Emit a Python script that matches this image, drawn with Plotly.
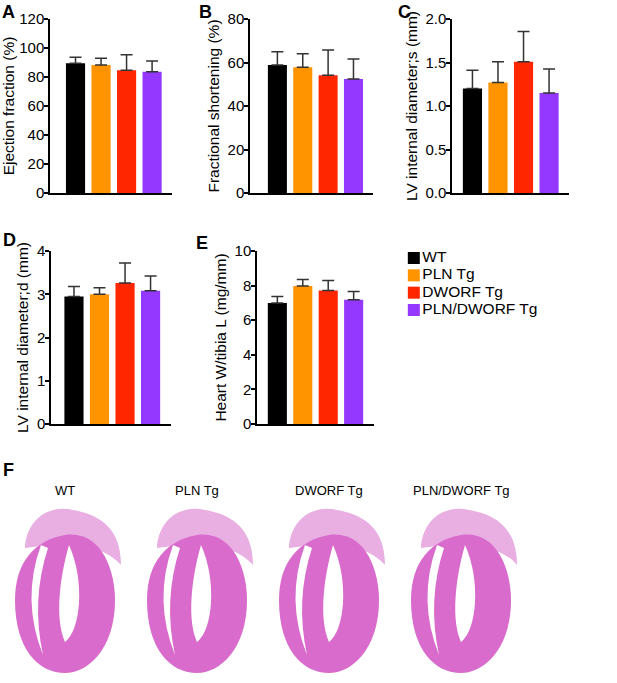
import plotly.graph_objects as go

# groups and colours
groups = ['WT', 'PLN Tg', 'DWORF Tg', 'PLN/DWORF Tg']
colors = ['#000000', '#ff9300', '#ff2600', '#9437ff']

# mean values and top of error bar (mean + SD)
ef_mean = [89.4, 88.3, 84.6, 83.7]
ef_upper = [93.6, 92.9, 95.4, 91.0]
fs_mean = [58.9, 57.8, 54.1, 52.4]
fs_upper = [65.0, 64.0, 65.7, 61.6]
lvids_mean = [1.20, 1.27, 1.51, 1.15]
lvids_upper = [1.41, 1.51, 1.855, 1.425]
lvidd_mean = [2.95, 3.00, 3.26, 3.08]
lvidd_upper = [3.18, 3.15, 3.72, 3.42]
hw_mean = [7.00, 7.98, 7.72, 7.18]
hw_upper = [7.37, 8.35, 8.29, 7.66]

W, H = 617, 683
FONT = 'Liberation Sans, Arial, sans-serif'


def px_x(a, b):
    return [a / W, b / W]


def px_y(top, bottom):
    return [1 - bottom / H, 1 - top / H]


panels = [
    # suffix, mean, upper, title, yrange, dtick, fmt, xdomain, ydomain, xrange
    ('', ef_mean, ef_upper, 'Ejection fraction (%)', [0, 120], 20, 'd',
     px_x(50, 172), px_y(19, 193), [-1.0, 3.78]),
    ('2', fs_mean, fs_upper, 'Fractional shortening (%)', [0, 80], 20, 'd',
     px_x(250, 373), px_y(19, 193), [-1.08, 3.77]),
    ('3', lvids_mean, lvids_upper, 'LV internal diameter;s (mm)', [0, 2.0], 0.5, '.1f',
     px_x(452, 569), px_y(19, 193), [-0.8, 3.78]),
    ('4', lvidd_mean, lvidd_upper, 'LV internal diameter;d (mm)', [0, 4], 1, 'd',
     px_x(51, 171), px_y(251, 424), [-0.9, 3.8]),
    ('5', hw_mean, hw_upper, 'Heart W/tibia L (mg/mm)', [0, 10], 2, 'd',
     px_x(257, 374), px_y(251, 424), [-0.8, 3.8]),
]

fig = go.Figure()
layout = dict(
    width=W, height=H,
    margin=dict(l=0, r=0, t=0, b=0),
    paper_bgcolor='white', plot_bgcolor='rgba(0,0,0,0)',
    showlegend=False,
    font=dict(family=FONT, color='black'),
)

for suffix, mean, upper, title, yr, dtick, fmt, xd, yd, xr in panels:
    fig.add_trace(go.Bar(
        x=list(range(len(groups))), y=mean,
        width=0.75,
        marker=dict(color=colors, line=dict(width=0)),
        error_y=dict(type='data', symmetric=False,
                     array=[u - m for u, m in zip(upper, mean)],
                     arrayminus=[0] * len(mean),
                     color='#333333', thickness=1.5, width=6),
        xaxis='x' + suffix, yaxis='y' + suffix,
        hovertext=groups,
    ))
    layout['xaxis' + suffix] = dict(
        domain=xd, range=xr, showline=True, linecolor='black', linewidth=1.5,
        showticklabels=False, ticks='', showgrid=False, zeroline=False,
        fixedrange=True, anchor='y' + suffix,
    )
    layout['yaxis' + suffix] = dict(
        domain=yd, range=yr, dtick=dtick, tickformat=fmt,
        showline=True, linecolor='black', linewidth=1.5,
        ticks='outside', ticklen=4, tickwidth=1.5, tickcolor='black',
        ticklabelstandoff=-3,
        tickfont=dict(size=15, family=FONT),
        showgrid=False, zeroline=False, automargin=False,
        title=dict(text=title, font=dict(size=15.5, family=FONT), standoff=4),
        anchor='x' + suffix,
    )

# manual legend: square markers with labels
fig.add_trace(go.Scatter(
    x=[0] * len(groups), y=list(range(len(groups))),
    mode='markers+text', text=groups, textposition='middle right',
    textfont=dict(size=15.5, family=FONT, color='black'),
    marker=dict(symbol='square', size=12, color=colors),
    xaxis='x6', yaxis='y6', hoverinfo='skip', cliponaxis=False,
))
layout['xaxis6'] = dict(domain=px_x(408, 600), range=[-0.5, 16], visible=False,
                        fixedrange=True, anchor='y6')
layout['yaxis6'] = dict(domain=px_y(250, 318), range=[3.46, -0.46], visible=False,
                        fixedrange=True, anchor='x6')

# panel F: histology labels and stylised heart sections
layout['xaxis7'] = dict(domain=[0, 1], range=[-65 / 132, (W - 65) / 132], visible=False,
                        fixedrange=True, anchor='y7')
layout['yaxis7'] = dict(domain=[0, 1], range=[H, 0], visible=False,
                        fixedrange=True, anchor='x7')

annotations = []
shapes = []
s = 1 / 132
for i, g in enumerate(groups):
    annotations.append(dict(x=i, y=490, xref='x7', yref='y7', text=g, showarrow=False,
                            font=dict(size=13, family=FONT, color='black')))

    def P(dx, y):
        return f'{i + dx * s:.4f},{y}'

    atria = ('M ' + P(-40, 545) + ' C ' + P(-36, 515) + ' ' + P(-12, 505) + ' ' + P(8, 510)
             + ' C ' + P(32, 514) + ' ' + P(56, 526) + ' ' + P(56, 565)
             + ' C ' + P(42, 548) + ' ' + P(12, 540) + ' ' + P(-40, 548) + ' Z')
    ventricle = ('M ' + P(0, 535) + ' C ' + P(36, 530) + ' ' + P(50, 570) + ' ' + P(50, 600)
                 + ' C ' + P(50, 650) + ' ' + P(22, 673) + ' ' + P(0, 673)
                 + ' C ' + P(-26, 673) + ' ' + P(-50, 650) + ' ' + P(-50, 600)
                 + ' C ' + P(-50, 562) + ' ' + P(-30, 540) + ' ' + P(0, 535) + ' Z')
    slit = ('M ' + P(-24, 545) + ' Q ' + P(-44, 600) + ' ' + P(-22, 655)
            + ' Q ' + P(-34, 600) + ' ' + P(-17, 548) + ' Z')
    cavity = ('M ' + P(4, 545) + ' C ' + P(20, 580) + ' ' + P(16, 630) + ' ' + P(0, 642)
              + ' C ' + P(-10, 620) + ' ' + P(-6, 580) + ' ' + P(4, 545) + ' Z')
    for path, col in [(atria, '#e9aee2'), (ventricle, '#d86bcb'),
                      (slit, 'white'), (cavity, 'white')]:
        shapes.append(dict(type='path', path=path, xref='x7', yref='y7',
                           fillcolor=col, line=dict(width=0), layer='above'))

# panel letters
for letter, x, y in [('A', 8, 12), ('B', 205, 12), ('C', 404, 12),
                     ('D', 9, 240), ('E', 202, 243), ('F', 8, 470)]:
    annotations.append(dict(x=x / W, y=1 - y / H, xref='paper', yref='paper', text=letter,
                            showarrow=False,
                            font=dict(size=18, family=FONT, color='black', weight='bold'),
                            xanchor='center', yanchor='middle'))

layout['annotations'] = annotations
layout['shapes'] = shapes
fig.update_layout(**layout)

# drop the default page margin so the figure sits at the window's corner
fig.write_html('out.html', config={'displayModeBar': False},
               post_script="document.body.style.margin='0';")
